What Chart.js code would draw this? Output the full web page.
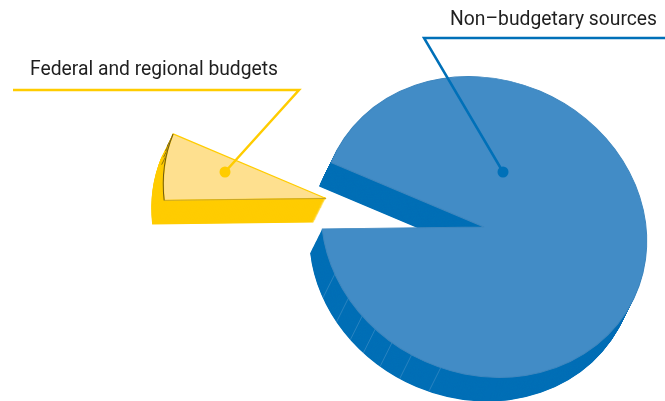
<!DOCTYPE html>
<html>
<head>
<meta charset="utf-8">
<style>
  html, body { margin: 0; padding: 0; background: #fff; }
  canvas { display: block; }
</style>
<script src="https://cdn.jsdelivr.net/npm/chart.js@4/dist/chart.umd.min.js"></script>
</head>
<body>
<canvas id="myChart" width="665" height="401"></canvas>
<script>
const categories = ["Federal and regional budgets", "Non–budgetary sources"];
const shares = [7.25, 92.75];

const topColors = ["#fee08f", "#428cc6"];
const edgeColors = ["#ffcc00", "#3f87bf"];
const sideColors = ["#ffcc00", "#006fb6"];
const lineColors = ["#ffcc00", "#0070b8"];

// the pie is a tilted disc, so everything goes through this squash
const tilt = 25 * Math.PI / 180;
const squash = 0.885;
const depth = { x: -12, y: 24 };
const explode = [{ x: -158, y: -28.5 }, { x: 0, y: 0 }];
// angles of the seams on the blue rim, degrees
const blueSeams = [159, 149, 141, 134.5, 127, 119, 108];
const yellowSeams = [194, 197, 199.5, 201.5];

function applyDisc(ctx, arc, dx, dy) {
  const s = Math.sin(tilt), c = Math.cos(tilt), k = squash - 1;
  ctx.translate(arc.x + dx, arc.y + dy);
  ctx.transform(1 + k * s * s, -k * s * c, -k * s * c, 1 + k * c * c, 0, 0);
  ctx.translate(-arc.x, -arc.y);
}

function slicePath(ctx, arc) {
  ctx.beginPath();
  ctx.moveTo(arc.x, arc.y);
  ctx.arc(arc.x, arc.y, arc.outerRadius, arc.startAngle, arc.endAngle);
  ctx.closePath();
}

function rimPoint(arc, deg) {
  const a = deg * Math.PI / 180;
  return { x: arc.x + Math.cos(a) * arc.outerRadius, y: arc.y + Math.sin(a) * arc.outerRadius };
}

function drawSeams(ctx, arc, seams, shift, color, part) {
  ctx.strokeStyle = color;
  ctx.lineWidth = 1;
  seams.forEach((deg) => {
    const p = rimPoint(arc, deg);
    const s = Math.sin(tilt), c = Math.cos(tilt), k = squash - 1;
    const rx = p.x - arc.x, ry = p.y - arc.y;
    const sx = arc.x + shift.x + (1 + k * s * s) * rx - k * s * c * ry;
    const sy = arc.y + shift.y - k * s * c * rx + (1 + k * c * c) * ry;
    ctx.beginPath();
    ctx.moveTo(sx, sy);
    ctx.lineTo(sx + depth.x * part, sy + depth.y * part);
    ctx.stroke();
  });
}

const pieDepth = {
  id: "pieDepth",
  beforeDatasetDraw(chart, args) {
    const ctx = chart.ctx;
    const arcs = args.meta.data;
    arcs.forEach((arc, i) => {
      const shift = explode[i];
      // side walls, swept down from the top face
      ctx.fillStyle = sideColors[i];
      for (let t = 1; t >= 0.02; t -= 0.02) {
        ctx.save();
        applyDisc(ctx, arc, shift.x + depth.x * t, shift.y + depth.y * t);
        slicePath(ctx, arc);
        ctx.fill();
        ctx.restore();
      }
      if (i === 1) {
        drawSeams(ctx, arc, blueSeams, shift, "rgba(90,155,205,0.45)", 1);
      } else {
        drawSeams(ctx, arc, yellowSeams, shift, "rgba(110,90,20,0.8)", 0.4);
      }
      // top face is drawn by the library
      ctx.save();
      applyDisc(ctx, arc, shift.x, shift.y);
      arc.draw(ctx);
      if (i === 0) {
        ctx.strokeStyle = "#c4a42c";
        ctx.lineWidth = 1;
        ctx.beginPath();
        ctx.moveTo(arc.x, arc.y);
        ctx.lineTo(arc.x + Math.cos(arc.startAngle) * arc.outerRadius, arc.y + Math.sin(arc.startAngle) * arc.outerRadius);
        ctx.stroke();
        ctx.strokeStyle = "#6e5a14";
        ctx.beginPath();
        ctx.arc(arc.x, arc.y, arc.outerRadius, arc.startAngle, arc.endAngle);
        ctx.stroke();
      }
      ctx.restore();
    });
    return false;
  },
};

const callouts = {
  id: "callouts",
  afterDraw(chart, args, opts) {
    const ctx = chart.ctx;
    opts.items.forEach((item) => {
      ctx.strokeStyle = lineColors[item.index];
      ctx.fillStyle = lineColors[item.index];
      ctx.lineWidth = 2.5;
      ctx.beginPath();
      item.path.forEach((p, n) => (n ? ctx.lineTo(p[0], p[1]) : ctx.moveTo(p[0], p[1])));
      ctx.stroke();
      const end = item.path[item.path.length - 1];
      ctx.beginPath();
      ctx.arc(end[0], end[1], 5.5, 0, Math.PI * 2);
      ctx.fill();
      ctx.fillStyle = "#1f1f1f";
      ctx.font = "19.3px Roboto";
      ctx.textBaseline = "alphabetic";
      ctx.textAlign = "left";
      ctx.fillText(categories[item.index], item.textX, item.textY);
    });
  },
};

new Chart(document.getElementById("myChart"), {
  type: "pie",
  data: {
    labels: categories,
    datasets: [
      {
        data: shares,
        backgroundColor: topColors,
        borderColor: edgeColors,
        borderWidth: [1.5, 1],
      },
    ],
  },
  options: {
    responsive: false,
    animation: false,
    rotation: 266.5,
    radius: 166,
    layout: { padding: { left: 303, top: 53, right: 0, bottom: 0 } },
    plugins: {
      legend: { display: false },
      tooltip: { enabled: false },
      callouts: {
        items: [
          { index: 0, textX: 30, textY: 75, path: [[13, 90], [299, 90], [225, 172]] },
          { index: 1, textX: 450, textY: 25, path: [[665, 38], [424, 38], [503, 172]] },
        ],
      },
    },
  },
  plugins: [pieDepth, callouts],
});
</script>
</body>
</html>
